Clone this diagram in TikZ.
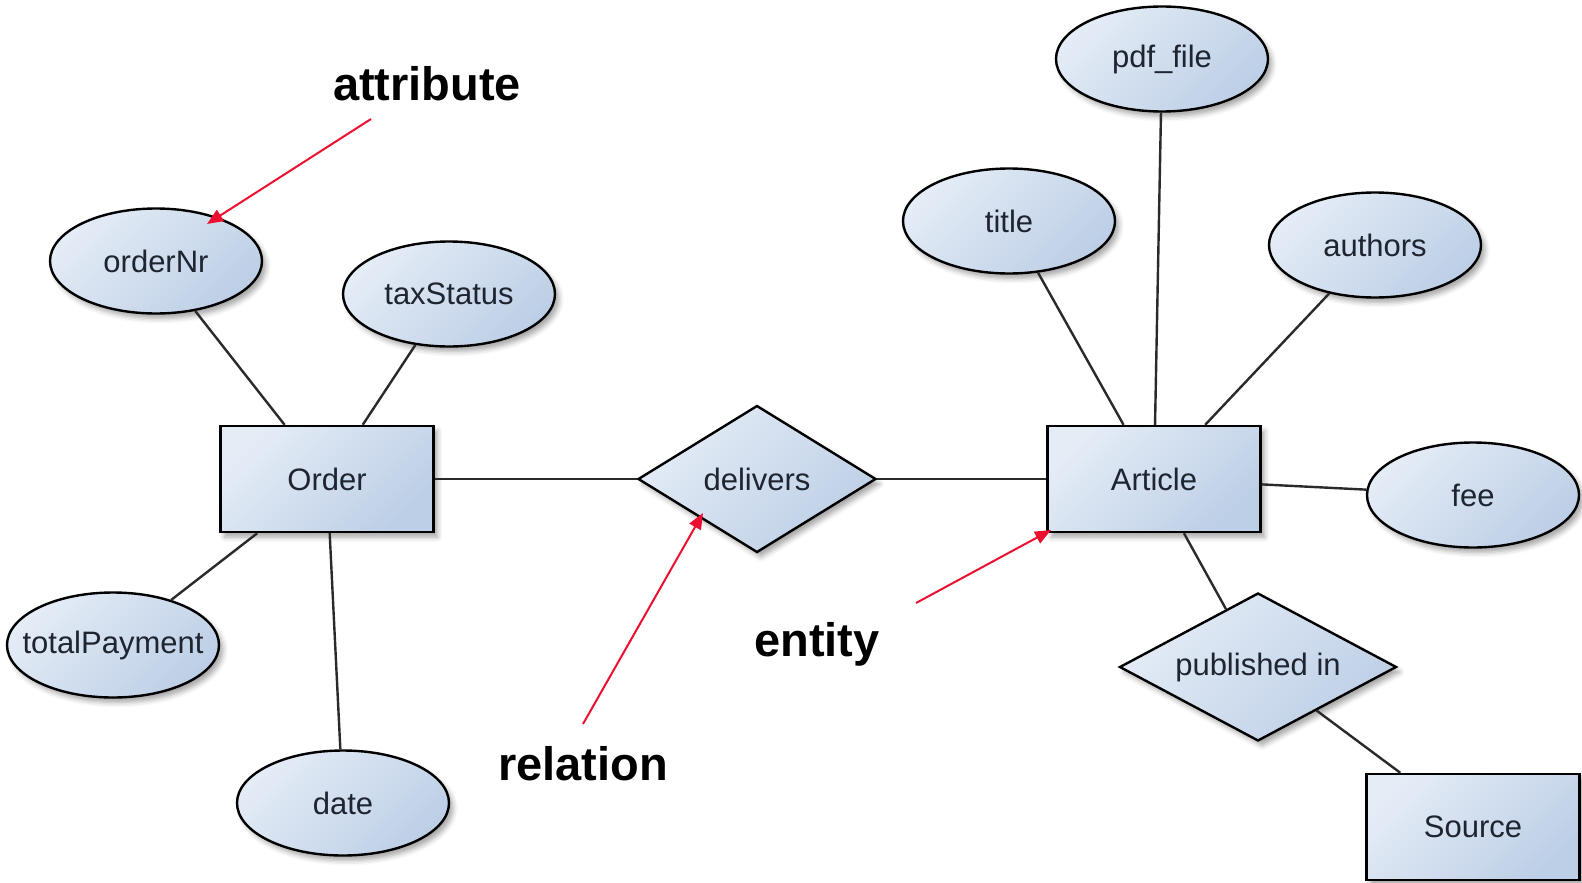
\documentclass[tikz,border=0pt]{standalone}
\usepackage{fontspec}
\setmainfont{Liberation Sans}
\usetikzlibrary{shapes.geometric,arrows.meta,shadows.blur}
\definecolor{fillhi}{HTML}{E4ECF6}
\definecolor{filllo}{HTML}{BDCFE6}
\definecolor{textdark}{HTML}{1E2430}
\definecolor{linkgray}{HTML}{2A2A2A}
\definecolor{callred}{HTML}{EC1030}
% zero-width label so that shape sizes come only from the minimum sizes
\newcommand{\ertext}[1]{\makebox[0pt][c]{#1}}
\tikzset{
  x=1pt, y=-1pt,
  ershape/.style={draw=black, line width=2.4pt, inner sep=0pt,
    top color=fillhi, bottom color=filllo, shading angle=45,
    text=textdark, font=\fontsize{31}{36}\selectfont,
    blur shadow={shadow xshift=4pt, shadow yshift=-5pt, shadow blur radius=5pt, shadow opacity=35}},
  attr/.style={ershape, ellipse, minimum width=212pt, minimum height=105pt},
  entity/.style={ershape, rectangle, minimum width=213pt, minimum height=106pt},
  rel/.style={ershape, diamond},
  link/.style={draw=linkgray, line width=2.4pt},
  callout/.style={draw=callred, line width=2pt, -{Triangle[length=16pt,width=13pt]}},
  calltext/.style={font=\bfseries\fontsize{47}{52}\selectfont, text=black}
}
\begin{document}
\begin{tikzpicture}
\useasboundingbox (0,0) rectangle (1582,883);

% left entity and its attributes
\node[entity] (order) at (327,479) {\ertext{Order}};
\node[attr] (ordernr) at (156,261) {\ertext{orderNr}};
\node[attr] (taxstatus) at (449,294) {\ertext{taxStatus}};
\node[attr] (totalpay) at (113,645) {\ertext{totalPayment}};
\node[attr] (date) at (343,803) {\ertext{date}};

% relationship
\node[rel, minimum width=238pt, minimum height=147pt] (delivers) at (757,479) {\ertext{delivers}};

% right entity and its attributes
\node[entity] (article) at (1154,479) {\ertext{Article}};
\node[attr] (pdf) at (1162,59) {\ertext{pdf\_file}};
\node[attr] (title) at (1009,221) {\ertext{title}};
\node[attr] (authors) at (1375,245) {\ertext{authors}};
\node[attr] (fee) at (1473,495) {\ertext{fee}};

\node[rel, minimum width=277pt, minimum height=148pt] (pubin) at (1258,667) {\ertext{published in}};
\node[entity] (source) at (1473,827) {\ertext{Source}};

% connectors between the shapes, clipped at their borders
\draw[link] (ordernr) -- (order);
\draw[link] (taxstatus) -- (order);
\draw[link] (totalpay) -- (order);
\draw[link] (date) -- (order);
\draw[link] (order) -- (delivers);
\draw[link] (delivers) -- (article);
\draw[link] (title) -- (article);
\draw[link] (pdf) -- (article);
\draw[link] (authors) -- (article);
\draw[link] (fee) -- (article);
\draw[link] (article) -- (pubin);
\draw[link] (pubin) -- (source);

% explanatory labels with red pointers
\node[calltext] (lattr) at (427,84) {attribute};
\node[calltext] (lrel) at (583,764) {relation};
\node[calltext] (lent) at (817,644) {entity};

\coordinate (attrtail) at (371,119);
\coordinate (attrhead) at (207,224);
\coordinate (reltail) at (583,724);
\coordinate (relhead) at (703,513);
\coordinate (enttail) at (916,603);
\coordinate (enthead) at (1051,530);
\draw[callout] (attrtail) -- (attrhead);
\draw[callout] (reltail) -- (relhead);
\draw[callout] (enttail) -- (enthead);
\end{tikzpicture}
\end{document}
